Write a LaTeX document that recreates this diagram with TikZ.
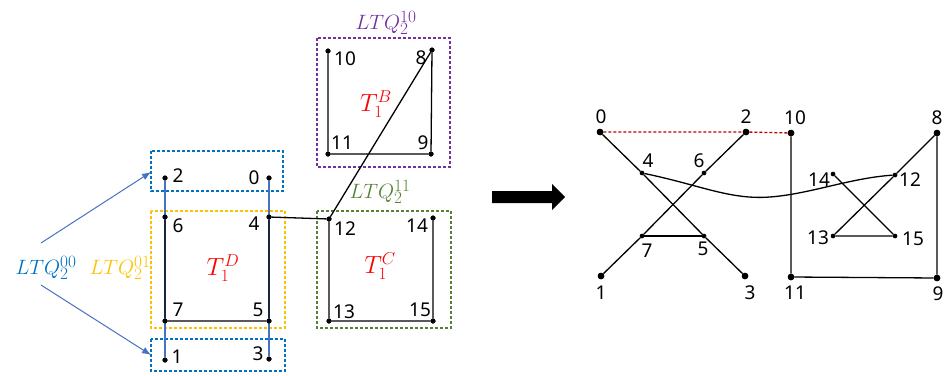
\documentclass[tikz,border=0pt]{standalone}
\usepackage{fontspec}
\setmainfont{Noto Sans}
\usetikzlibrary{arrows.meta}
\DeclareMathSizes{21}{21}{16}{12}
\DeclareMathSizes{26}{26}{17}{13}
\definecolor{cblue}{HTML}{0070C0}
\definecolor{carrow}{HTML}{4472C4}
\definecolor{cyellow}{HTML}{FFC000}
\definecolor{cpurple}{HTML}{7030A0}
\definecolor{cgreen}{HTML}{548235}
\definecolor{cdred}{HTML}{C00000}
\newcommand{\ltqlab}[1]{${LTQ}_2^{#1}$}
\begin{document}
\begin{tikzpicture}[x=1pt,y=-1pt,
  dot/.style={circle,fill=black,inner sep=0pt,minimum size=5pt},
  bdot/.style={circle,fill=black,inner sep=0pt,minimum size=6.5pt},
  sdot/.style={circle,fill=black,inner sep=0pt,minimum size=4.5pt},
  num/.style={font=\fontsize{19}{22}\selectfont,inner sep=0pt},
  ltq/.style={font=\fontsize{21}{24}\selectfont,inner sep=0pt},
  tlab/.style={font=\fontsize{26}{30}\selectfont,inner sep=0pt,text=red},
  box/.style={draw,dashed,dash pattern=on 3pt off 2pt,line width=1.3pt},
  edge/.style={line width=1.3pt},
  bline/.style={line width=1.3pt,carrow}]
\useasboundingbox (0,0) rectangle (947,375);
% ---------- left boxes ----------
\draw[box,cpurple] (317,38) rectangle (450,167);
\draw[box,cblue] (151,151) rectangle (283,191);
\draw[box,cyellow] (151,211) rectangle (285,328);
\draw[box,cgreen] (317,211) rectangle (451,328);
\draw[box,cblue] (151,339) rectangle (285,371);
% ---------- left nodes ----------
\node[dot] (L10) at (328,51) {};
\node[dot] (L8) at (432,50) {};
\node[dot] (L11) at (328,154) {};
\node[dot] (L9) at (431,154) {};
\node[dot] (L2) at (165,178) {};
\node[dot] (L0) at (269,178) {};
\node[dot] (L6) at (165,217) {};
\node[dot] (L4) at (269,217) {};
\node[dot] (L7) at (165,321) {};
\node[dot] (L5) at (269,321) {};
\node[dot] (L12) at (329,219) {};
\node[dot] (L14) at (433,218) {};
\node[dot] (L13) at (329,321) {};
\node[dot] (L15) at (433,321) {};
\node[dot] (L1) at (165,360) {};
\node[dot] (L3) at (269,359) {};
% labels
\node[num] at (345,59) {10};
\node[num] at (421,58) {8};
\node[num] at (342,143) {11};
\node[num] at (423,143) {9};
\node[num] at (178,176) {2};
\node[num] at (254,178) {0};
\node[num] at (178,226) {6};
\node[num] at (254,224) {4};
\node[num] at (178,310) {7};
\node[num] at (258,310) {5};
\node[num] at (345,229) {12};
\node[num] at (417,226) {14};
\node[num] at (344,312) {13};
\node[num] at (420,310) {15};
\node[num] at (177,357) {1};
\node[num] at (258,354) {3};
% blue lines
\draw[bline] (L2) -- (L1);
\draw[bline] (L0) -- (L3);
% black edges
\draw[edge] (L6) -- (L7) -- (L5) -- (L4) -- (L12) -- (L13) -- (L15) -- (L14);
\draw[edge] (L12) -- (L8) -- (L9) -- (L11) -- (L10);
\foreach \n in {L10,L8,L11,L9,L2,L0,L6,L4,L7,L5,L12,L14,L13,L15,L1,L3}
  \node[dot] at (\n) {};
% group labels
\node[ltq,text=cpurple] (g10) at (386,23) {\ltqlab{10}};
\node[ltq,text=cgreen] (g11) at (380,192) {\ltqlab{11}};
\node[ltq,text=cblue] (g00) at (46,268) {\ltqlab{00}};
\node[ltq,text=cyellow] (g01) at (120,268) {\ltqlab{01}};
\node[tlab] at (376,104) {$T_1^B$};
\node[tlab] at (223,268) {$T_1^D$};
\node[tlab] at (380,266) {$T_1^C$};
\coordinate (a1) at (41,243);
\coordinate (a1e) at (151,172);
\coordinate (a2) at (41,285);
\coordinate (a2e) at (151,355);
\draw[carrow,line width=1pt,-{Latex[length=9pt,width=7pt]}] (a1) -- (a1e);
\draw[carrow,line width=1pt,-{Latex[length=9pt,width=7pt]}] (a2) -- (a2e);
% ---------- big arrow ----------
\fill (492,191) -- (552,191) -- (552,184) -- (565,197) -- (552,210) -- (552,203) -- (492,203) -- cycle;
% ---------- right graph ----------
\node[bdot] (R0) at (600,132) {};
\node[bdot] (R2) at (746,132) {};
\node[bdot] (R10) at (791,133) {};
\node[bdot] (R8) at (937,133) {};
\node[sdot] (R4) at (642,173) {};
\node[sdot] (R6) at (704,173) {};
\node[sdot] (R14) at (833,174) {};
\node[sdot] (R12) at (895,175) {};
\node[sdot] (R7) at (642,236) {};
\node[sdot] (R5) at (704,236) {};
\node[sdot] (R13) at (833,236) {};
\node[sdot] (R15) at (895,236) {};
\node[bdot] (R1) at (601,276) {};
\node[bdot] (R3) at (745,276) {};
\node[bdot] (R11) at (791,277) {};
\node[bdot] (R9) at (937,278) {};
\draw[edge] (R0) -- (R4) -- (R5) -- (R3);
\draw[edge] (R2) -- (R6) -- (R7) -- (R1);
\draw[edge] (R7) -- (R5);
\draw[edge] (R4) .. controls (700,185) and (730,200) .. (770,197) .. controls (810,194) and (850,178) .. (R12);
\draw[edge] (R10) -- (R11) -- (R9) -- (R8) -- (R12) -- (R13) -- (R15) -- (R14);
\draw[cdred,line width=1.3pt,dashed,dash pattern=on 3pt off 2pt] (R0) -- (R2) -- (R10);
\foreach \n in {R0,R2,R10,R8,R1,R3,R11,R9}
  \node[bdot] at (\n) {};
\foreach \n in {R4,R6,R14,R12,R7,R5,R13,R15}
  \node[sdot] at (\n) {};
\node[num] at (601,117) {0};
\node[num] at (746,117) {2};
\node[num] at (795,118) {10};
\node[num] at (937,118) {8};
\node[num] at (648,161) {4};
\node[num] at (699,161) {6};
\node[num] at (819,180) {14};
\node[num] at (910,180) {12};
\node[num] at (647,251) {7};
\node[num] at (703,249) {5};
\node[num] at (818,238) {13};
\node[num] at (913,239) {15};
\node[num] at (601,293) {1};
\node[num] at (750,293) {3};
\node[num] at (795,293) {11};
\node[num] at (938,294) {9};
\end{tikzpicture}
\end{document}
